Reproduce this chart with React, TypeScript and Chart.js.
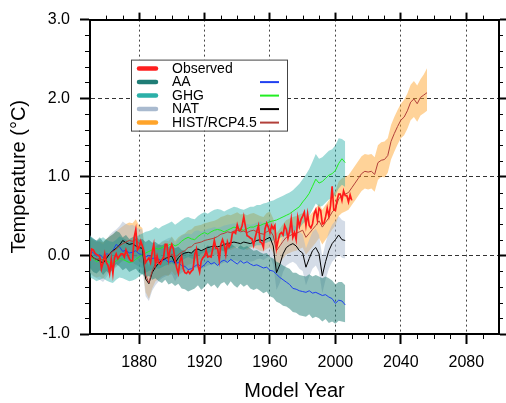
import { useEffect, useRef } from 'react';
import { Chart, registerables } from 'chart.js';
Chart.register(...registerables);

const FONT = "'Liberation Sans', Arial, Helvetica, sans-serif";

// ---- axes / ticks ----
const X_MIN = 1850;
const X_MAX = 2100;
const Y_MIN = -1;
const Y_MAX = 3;
const X_TICKS = [1880, 1920, 1960, 2000, 2040, 2080];
const Y_TICKS = [-1, 0, 1, 2, 3];
const X_MINOR = [1860, 1870, 1890, 1900, 1910, 1930, 1940, 1950, 1970, 1980, 1990, 2010, 2020, 2030, 2050, 2060, 2070, 2090];
const Y_MINOR = [-0.8, -0.6, -0.4, -0.2, 0.2, 0.4, 0.6, 0.8, 1.2, 1.4, 1.6, 1.8, 2.2, 2.4, 2.6, 2.8];

// ---- observed (annual, 1850-2010) ----
const OBS_START = 1850;
const OBSERVED = [
  -0.07, 0.08, 0.07, 0.03, 0.01, 0.00, -0.02, -0.17, -0.09, 0.02,
  -0.09, -0.13, -0.23, -0.05, -0.23, -0.03, 0.02, -0.04, -0.01, 0.02,
  0.02, -0.02, 0.07, 0.01, -0.04, -0.07, -0.07, 0.23, 0.33, 0.07,
  0.10, 0.18, 0.12, 0.05, -0.09, -0.06, -0.03, -0.09, 0.04, 0.14,
  -0.11, -0.01, -0.10, -0.11, -0.06, -0.02, 0.14, 0.14, -0.05, 0.08,
  0.14, 0.08, -0.06, -0.16, -0.23, -0.07, -0.01, -0.17, -0.22, -0.23,
  -0.20, -0.23, -0.20, -0.18, 0.01, 0.08, -0.13, -0.21, -0.07, -0.03,
  -0.01, 0.06, -0.02, -0.01, -0.02, 0.08, 0.19, 0.09, 0.09, -0.06,
  0.14, 0.20, 0.14, 0.01, 0.17, 0.11, 0.15, 0.28, 0.30, 0.28,
  0.39, 0.32, 0.32, 0.38, 0.49, 0.37, 0.25, 0.24, 0.22, 0.21,
  0.13, 0.23, 0.31, 0.38, 0.17, 0.16, 0.10, 0.34, 0.41, 0.36,
  0.29, 0.38, 0.34, 0.38, 0.09, 0.19, 0.27, 0.29, 0.26, 0.38,
  0.33, 0.22, 0.31, 0.46, 0.23, 0.29, 0.20, 0.48, 0.37, 0.46,
  0.50, 0.55, 0.38, 0.53, 0.38, 0.35, 0.40, 0.53, 0.58, 0.45,
  0.60, 0.57, 0.40, 0.41, 0.49, 0.60, 0.50, 0.63, 0.88, 0.58,
  0.57, 0.70, 0.78, 0.78, 0.70, 0.82, 0.76, 0.76, 0.68, 0.77,
  0.70,
];

// ---- model ensembles (every 2 years, 1850-2006) ----
const MODEL_START = 1850;
const MODEL_STEP = 2;

const AA = [
  0.07, 0.03, -0.01, 0.01, -0.03, 0.02, 0.01, 0.06, 0.14, 0.11,
  0.05, 0.07, 0.03, 0.04, 0.06, 0.02, 0.01, -0.02, 0.00, -0.04,
  -0.03, -0.05, -0.07, -0.05, -0.09, -0.07, -0.10, -0.09, -0.13, -0.14,
  -0.18, -0.17, -0.14, -0.11, -0.15, -0.12, -0.07, -0.11, -0.09, -0.13,
  -0.08, -0.06, -0.09, -0.05, -0.08, -0.11, -0.07, -0.10, -0.08, -0.11,
  -0.13, -0.12, -0.14, -0.16, -0.15, -0.19, -0.20, -0.24, -0.28, -0.31,
  -0.34, -0.37, -0.42, -0.43, -0.45, -0.46, -0.47, -0.45, -0.48, -0.47,
  -0.49, -0.51, -0.50, -0.53, -0.55, -0.61, -0.57, -0.58, -0.63,
];
const AA_LO = [
  -0.16, -0.21, -0.23, -0.19, -0.25, -0.20, -0.23, -0.17, -0.11, -0.14,
  -0.19, -0.16, -0.21, -0.19, -0.17, -0.22, -0.24, -0.28, -0.26, -0.31,
  -0.29, -0.33, -0.35, -0.31, -0.37, -0.35, -0.39, -0.36, -0.42, -0.43,
  -0.46, -0.44, -0.42, -0.38, -0.44, -0.40, -0.35, -0.40, -0.37, -0.42,
  -0.36, -0.34, -0.39, -0.33, -0.38, -0.41, -0.36, -0.40, -0.37, -0.42,
  -0.44, -0.42, -0.45, -0.48, -0.46, -0.52, -0.54, -0.59, -0.61, -0.64,
  -0.65, -0.68, -0.72, -0.73, -0.76, -0.77, -0.78, -0.75, -0.80, -0.78,
  -0.80, -0.84, -0.81, -0.86, -0.84, -0.87, -0.83, -0.84, -0.85,
];
const AA_HI = [
  0.24, 0.21, 0.19, 0.23, 0.17, 0.21, 0.24, 0.27, 0.31, 0.29,
  0.23, 0.26, 0.21, 0.23, 0.25, 0.20, 0.21, 0.17, 0.20, 0.16,
  0.17, 0.14, 0.13, 0.15, 0.11, 0.13, 0.09, 0.11, 0.07, 0.06,
  0.02, 0.04, 0.07, 0.10, 0.05, 0.08, 0.13, 0.09, 0.11, 0.07,
  0.12, 0.14, 0.11, 0.15, 0.12, 0.09, 0.13, 0.10, 0.12, 0.09,
  0.06, 0.07, 0.04, 0.02, 0.03, -0.02, -0.04, -0.08, -0.10, -0.13,
  -0.15, -0.17, -0.22, -0.22, -0.25, -0.26, -0.27, -0.24, -0.27, -0.25,
  -0.27, -0.29, -0.27, -0.29, -0.32, -0.37, -0.34, -0.34, -0.38,
];

const GHG = [
  -0.02, -0.04, -0.08, -0.06, -0.05, -0.07, -0.09, -0.10, -0.07, -0.04,
  -0.05, -0.07, -0.09, -0.08, -0.05, -0.02, 0.01, 0.03, 0.05, 0.07,
  0.09, 0.08, 0.10, 0.12, 0.13, 0.15, 0.12, 0.14, 0.18, 0.21,
  0.23, 0.21, 0.20, 0.24, 0.27, 0.29, 0.27, 0.30, 0.32, 0.33,
  0.32, 0.30, 0.32, 0.34, 0.36, 0.35, 0.33, 0.32, 0.34, 0.36,
  0.36, 0.38, 0.38, 0.40, 0.41, 0.43, 0.44, 0.45, 0.47, 0.49,
  0.51, 0.53, 0.56, 0.59, 0.62, 0.68, 0.73, 0.79, 0.88, 0.97,
  0.92, 0.94, 0.98, 1.02, 1.04, 1.08, 1.17, 1.23, 1.18,
];
const GHG_LO = [
  -0.28, -0.30, -0.33, -0.31, -0.29, -0.32, -0.34, -0.35, -0.31, -0.28,
  -0.29, -0.31, -0.33, -0.32, -0.30, -0.27, -0.24, -0.22, -0.20, -0.18,
  -0.16, -0.17, -0.15, -0.13, -0.12, -0.10, -0.13, -0.11, -0.07, -0.04,
  -0.02, -0.04, -0.05, -0.01, 0.02, 0.04, 0.02, 0.05, 0.07, 0.08,
  0.07, 0.05, 0.07, 0.09, 0.11, 0.10, 0.08, 0.07, 0.09, 0.11,
  0.11, 0.13, 0.13, 0.15, 0.16, 0.18, 0.19, 0.20, 0.22, 0.24,
  0.25, 0.27, 0.30, 0.32, 0.35, 0.40, 0.44, 0.50, 0.58, 0.66,
  0.62, 0.63, 0.67, 0.71, 0.73, 0.77, 0.85, 0.90, 0.87,
];
const GHG_HI = [
  0.24, 0.22, 0.18, 0.21, 0.23, 0.20, 0.18, 0.17, 0.20, 0.24,
  0.22, 0.20, 0.17, 0.19, 0.23, 0.26, 0.28, 0.30, 0.31, 0.33,
  0.36, 0.34, 0.37, 0.39, 0.41, 0.43, 0.39, 0.42, 0.45, 0.48,
  0.49, 0.47, 0.46, 0.50, 0.53, 0.55, 0.53, 0.56, 0.58, 0.59,
  0.58, 0.56, 0.58, 0.60, 0.62, 0.61, 0.59, 0.58, 0.60, 0.62,
  0.62, 0.64, 0.64, 0.66, 0.67, 0.69, 0.70, 0.72, 0.74, 0.76,
  0.78, 0.80, 0.83, 0.87, 0.91, 0.97, 1.03, 1.10, 1.19, 1.29,
  1.23, 1.25, 1.29, 1.33, 1.35, 1.40, 1.49, 1.48, 1.45,
];

const NAT = [
  0.02, -0.03, -0.05, -0.07, -0.10, -0.04, 0.02, 0.06, 0.09, 0.13,
  0.19, 0.16, 0.14, 0.15, 0.12, 0.10, 0.09, -0.30, -0.36, -0.22,
  -0.15, -0.10, -0.06, -0.04, -0.02, -0.01, -0.10, -0.03, 0.01, 0.03,
  0.04, 0.03, 0.07, 0.08, 0.06, 0.08, 0.10, 0.11, 0.12, 0.11,
  0.12, 0.14, 0.15, 0.16, 0.17, 0.16, 0.15, 0.17, 0.16, 0.15,
  0.17, 0.19, 0.20, 0.18, 0.21, 0.23, 0.12, -0.22, -0.12, 0.02,
  0.10, 0.13, 0.15, 0.12, 0.06, 0.03, -0.15, -0.04, 0.06, 0.10,
  0.02, -0.26, -0.08, 0.06, 0.15, 0.20, 0.26, 0.20, 0.19,
];
const NAT_LO = [
  -0.22, -0.27, -0.29, -0.31, -0.34, -0.28, -0.22, -0.18, -0.15, -0.11,
  -0.05, -0.08, -0.10, -0.09, -0.12, -0.14, -0.16, -0.52, -0.58, -0.45,
  -0.38, -0.33, -0.29, -0.27, -0.25, -0.24, -0.33, -0.26, -0.22, -0.20,
  -0.19, -0.20, -0.16, -0.15, -0.17, -0.15, -0.13, -0.12, -0.11, -0.12,
  -0.11, -0.09, -0.08, -0.07, -0.06, -0.07, -0.08, -0.06, -0.07, -0.08,
  -0.07, -0.05, -0.04, -0.06, -0.03, -0.01, -0.12, -0.44, -0.35, -0.21,
  -0.13, -0.10, -0.08, -0.11, -0.17, -0.20, -0.38, -0.27, -0.17, -0.13,
  -0.21, -0.48, -0.31, -0.17, -0.08, -0.04, 0.01, -0.03, -0.04,
];
const NAT_HI = [
  0.26, 0.21, 0.19, 0.17, 0.14, 0.20, 0.26, 0.30, 0.33, 0.37,
  0.43, 0.40, 0.38, 0.39, 0.36, 0.34, 0.33, -0.06, -0.12, 0.02,
  0.09, 0.14, 0.18, 0.20, 0.22, 0.23, 0.14, 0.21, 0.25, 0.27,
  0.28, 0.27, 0.31, 0.32, 0.30, 0.32, 0.34, 0.35, 0.36, 0.35,
  0.36, 0.38, 0.39, 0.40, 0.41, 0.40, 0.39, 0.41, 0.40, 0.39,
  0.40, 0.42, 0.43, 0.41, 0.44, 0.46, 0.36, 0.02, 0.12, 0.26,
  0.34, 0.37, 0.39, 0.36, 0.30, 0.27, 0.09, 0.20, 0.30, 0.34,
  0.26, -0.02, 0.16, 0.30, 0.39, 0.44, 0.50, 0.45, 0.43,
];

const HIST = [
  0.00, -0.03, -0.05, -0.04, -0.06, -0.01, 0.02, 0.05, 0.08, 0.12,
  0.15, 0.17, 0.19, 0.18, 0.20, 0.15, 0.13, -0.25, -0.35, -0.20,
  -0.10, -0.08, -0.05, -0.03, -0.04, 0.02, -0.04, 0.01, 0.04, 0.06,
  0.10, 0.11, 0.15, 0.16, 0.17, 0.19, 0.20, 0.21, 0.22, 0.24,
  0.27, 0.28, 0.30, 0.29, 0.31, 0.32, 0.30, 0.31, 0.29, 0.31,
  0.32, 0.30, 0.28, 0.27, 0.30, 0.32, 0.25, 0.06, 0.12, 0.18,
  0.23, 0.25, 0.27, 0.28, 0.30, 0.32, 0.23, 0.28, 0.33, 0.38,
  0.44, 0.36, 0.42, 0.48, 0.55, 0.60, 0.72, 0.76, 0.78,
];
const HIST_LO = [
  -0.22, -0.26, -0.28, -0.27, -0.30, -0.24, -0.20, -0.17, -0.14, -0.10,
  -0.07, -0.05, -0.03, -0.04, -0.02, -0.08, -0.10, -0.47, -0.55, -0.42,
  -0.33, -0.30, -0.27, -0.25, -0.26, -0.20, -0.26, -0.21, -0.18, -0.16,
  -0.12, -0.11, -0.07, -0.06, -0.05, -0.03, -0.02, -0.01, 0.00, 0.02,
  0.05, 0.06, 0.08, 0.07, 0.09, 0.10, 0.08, 0.09, 0.07, 0.09,
  0.10, 0.08, 0.06, 0.05, 0.08, 0.10, 0.03, -0.17, -0.10, -0.04,
  0.01, 0.03, 0.05, 0.06, 0.08, 0.10, 0.01, 0.06, 0.11, 0.16,
  0.22, 0.14, 0.20, 0.26, 0.33, 0.38, 0.50, 0.54, 0.56,
];
const HIST_HI = [
  0.22, 0.19, 0.17, 0.18, 0.16, 0.21, 0.24, 0.27, 0.30, 0.34,
  0.37, 0.40, 0.42, 0.41, 0.46, 0.38, 0.35, -0.03, -0.14, 0.02,
  0.12, 0.14, 0.17, 0.19, 0.18, 0.24, 0.18, 0.23, 0.26, 0.28,
  0.32, 0.33, 0.37, 0.38, 0.39, 0.41, 0.42, 0.43, 0.44, 0.46,
  0.49, 0.50, 0.52, 0.51, 0.53, 0.55, 0.52, 0.53, 0.51, 0.53,
  0.54, 0.52, 0.50, 0.49, 0.54, 0.56, 0.47, 0.28, 0.34, 0.40,
  0.45, 0.47, 0.49, 0.50, 0.52, 0.54, 0.45, 0.50, 0.55, 0.60,
  0.66, 0.58, 0.64, 0.70, 0.77, 0.82, 0.94, 0.98, 1.00,
];

// ---- RCP4.5 continuation (every 2 years, 2008-2056) ----
const RCP_START = 2008;
const RCP = [
  0.80, 0.86, 0.92, 0.98, 1.04, 1.07, 1.06, 1.07, 1.03, 1.18,
  1.21, 1.22, 1.27, 1.45, 1.55, 1.64, 1.72, 1.76, 1.84, 1.95,
  1.99, 1.93, 2.01, 2.04, 2.07,
];
const RCP_LO = [
  0.58, 0.64, 0.70, 0.76, 0.82, 0.85, 0.84, 0.85, 0.81, 0.96,
  1.00, 0.99, 1.05, 1.22, 1.32, 1.41, 1.49, 1.53, 1.61, 1.72,
  1.76, 1.70, 1.78, 1.81, 1.84,
];
const RCP_HI = [
  1.02, 1.08, 1.14, 1.20, 1.26, 1.29, 1.28, 1.29, 1.25, 1.40,
  1.44, 1.45, 1.49, 1.66, 1.76, 1.85, 1.93, 1.98, 2.06, 2.17,
  2.22, 2.16, 2.24, 2.30, 2.38,
];

// ---- legend ----
const LEGEND_LABELS = ['Observed', 'AA', 'GHG', 'NAT', 'HIST/RCP4.5'];
const LEGEND_BAND_COLORS = ['#ff1f1f', '#1f7d76', '#2bb0a8', '#a9bacf', '#ffa42a'];
const LEGEND_LINE_COLORS = [null, '#2040f0', '#22ee22', '#000000', '#b2403a'];

const yearsFrom = (start: number, step: number, n: number) => Array.from({ length: n }, (_, i) => start + step * i);
const pts = (xs: number[], ys: number[]) => ys.map((y, i) => ({ x: xs[i], y }));

const OBS_YEARS = yearsFrom(OBS_START, 1, OBSERVED.length);
const MODEL_YEARS = yearsFrom(MODEL_START, MODEL_STEP, AA.length);
const RCP_YEARS = yearsFrom(RCP_START, 2, RCP.length);
const HR_YEARS = MODEL_YEARS.concat(RCP_YEARS);

const minorTicks = {
  id: 'minorTicks',
  afterDraw(chart: any) {
    const { ctx, chartArea: a, scales } = chart;
    const x = scales.x, y = scales.y;
    ctx.save();
    ctx.strokeStyle = '#000';
    ctx.lineWidth = 1;
    ctx.beginPath();
    for (const v of X_MINOR) {
      const px = Math.round(x.getPixelForValue(v)) + 0.5;
      ctx.moveTo(px, a.bottom); ctx.lineTo(px, a.bottom + 5);
      ctx.moveTo(px, a.top); ctx.lineTo(px, a.top - 4);
    }
    for (const v of Y_MINOR) {
      const py = Math.round(y.getPixelForValue(v)) + 0.5;
      ctx.moveTo(a.left, py); ctx.lineTo(a.left - 5, py);
      ctx.moveTo(a.right, py); ctx.lineTo(a.right + 4, py);
    }
    ctx.stroke();
    ctx.restore();
  },
};

const boxLegend = {
  id: 'boxLegend',
  afterDraw(chart: any) {
    const { ctx, chartArea: a } = chart;
    const left = a.left + 41, top = a.top + 40, w = 156, h = 71;
    ctx.save();
    ctx.fillStyle = '#ffffff';
    ctx.fillRect(left, top, w, h);
    ctx.strokeStyle = '#444';
    ctx.lineWidth = 1;
    ctx.strokeRect(left + 0.5, top + 0.5, w, h);
    ctx.font = `14px ${FONT}`;
    ctx.textBaseline = 'middle';
    ctx.textAlign = 'left';
    LEGEND_LABELS.forEach((lab, i) => {
      const cy = top + 9 + i * 13.5;
      ctx.lineCap = 'round';
      ctx.lineWidth = 4.5;
      ctx.strokeStyle = LEGEND_BAND_COLORS[i];
      ctx.beginPath(); ctx.moveTo(left + 8, cy); ctx.lineTo(left + 25, cy); ctx.stroke();
      ctx.fillStyle = '#000';
      ctx.fillText(lab, left + 41, cy + 0.5);
      const lc = LEGEND_LINE_COLORS[i];
      if (lc) {
        ctx.lineCap = 'butt';
        ctx.lineWidth = 2;
        ctx.strokeStyle = lc;
        ctx.beginPath(); ctx.moveTo(left + 129, cy); ctx.lineTo(left + 148, cy); ctx.stroke();
      }
    });
    ctx.restore();
  },
};

function line(label: string, xs: number[], ys: number[], color: string, width: number, order: number) {
  return { label, data: pts(xs, ys), borderColor: color, borderWidth: width, pointRadius: 0, fill: false, order, tension: 0 };
}
function bandEdge(label: string, xs: number[], ys: number[], order: number, fillTarget: any, color: string) {
  return { label, data: pts(xs, ys), borderWidth: 0, borderColor: 'rgba(0,0,0,0)', pointRadius: 0, order, tension: 0, fill: fillTarget, backgroundColor: color };
}

export default function App() {
  const ref = useRef<HTMLCanvasElement>(null);
  useEffect(() => {
    const datasets: any[] = [
      line('Observed', OBS_YEARS, OBSERVED, '#ff1a1a', 1.7, 0),
      line('HIST/RCP4.5', HR_YEARS, HIST.concat(RCP), '#b2403a', 1, 1),
      line('NAT', MODEL_YEARS, NAT, '#000000', 1, 2),
      line('GHG', MODEL_YEARS, GHG, '#22ee22', 1, 3),
      line('AA', MODEL_YEARS, AA, '#2040f0', 1, 4),
      bandEdge('AA lo', MODEL_YEARS, AA_LO, 10, false, 'rgba(0,0,0,0)'),
      bandEdge('AA hi', MODEL_YEARS, AA_HI, 10, 5, 'rgba(31,125,118,0.5)'),
      bandEdge('GHG lo', MODEL_YEARS, GHG_LO, 11, false, 'rgba(0,0,0,0)'),
      bandEdge('GHG hi', MODEL_YEARS, GHG_HI, 11, 7, 'rgba(43,176,168,0.45)'),
      bandEdge('NAT lo', MODEL_YEARS, NAT_LO, 12, false, 'rgba(0,0,0,0)'),
      bandEdge('NAT hi', MODEL_YEARS, NAT_HI, 12, 9, 'rgba(169,186,207,0.5)'),
      bandEdge('HIST lo', HR_YEARS, HIST_LO.concat(RCP_LO), 13, false, 'rgba(0,0,0,0)'),
      bandEdge('HIST hi', HR_YEARS, HIST_HI.concat(RCP_HI), 13, 11, 'rgba(255,164,42,0.48)'),
    ];
    const setXTicks = (s: any) => { s.ticks = X_TICKS.map((v) => ({ value: v })); };
    const setYTicks = (s: any) => { s.ticks = Y_TICKS.map((v) => ({ value: v })); };
    const chart = new Chart(ref.current as HTMLCanvasElement, {
      type: 'line',
      data: { datasets },
      plugins: [minorTicks, boxLegend],
      options: {
        responsive: false,
        animation: false,
        layout: { padding: 0 },
        elements: { point: { radius: 0 }, line: { tension: 0 } },
        plugins: { legend: { display: false }, tooltip: { enabled: false } },
        scales: {
          x: {
            type: 'linear', position: 'bottom', min: X_MIN, max: X_MAX,
            afterBuildTicks: setXTicks,
            afterFit: (s: any) => { s.height = 69; },
            ticks: { color: '#000', font: { family: FONT, size: 16 }, padding: 9, maxRotation: 0, autoSkip: false, callback: (v: any) => String(v) },
            grid: { color: '#444', lineWidth: 1, tickLength: 10, tickColor: '#000', tickWidth: 2 },
            border: { display: true, color: '#000', width: 2, dash: [2, 3] },
            title: { display: true, text: 'Model Year', color: '#000', font: { family: FONT, size: 20 }, padding: { top: 0, bottom: 0 } },
          },
          x2: {
            type: 'linear', position: 'top', min: X_MIN, max: X_MAX,
            afterBuildTicks: setXTicks,
            afterFit: (s: any) => { s.height = 17; },
            ticks: { display: false },
            grid: { drawOnChartArea: false, tickLength: 7, tickColor: '#000', tickWidth: 2 },
            border: { display: true, color: '#000', width: 2 },
          },
          y: {
            type: 'linear', position: 'left', min: Y_MIN, max: Y_MAX,
            afterBuildTicks: setYTicks,
            afterFit: (s: any) => { s.width = 90; },
            ticks: { color: '#000', font: { family: FONT, size: 16 }, padding: 10, callback: (v: any) => Number(v).toFixed(1) },
            grid: {
              color: (c: any) => (c.tick && (c.tick.value === Y_MIN || c.tick.value === Y_MAX) ? 'rgba(0,0,0,0)' : '#333'),
              lineWidth: 1, tickLength: 10, tickColor: '#000', tickWidth: 2,
            },
            border: { display: true, color: '#000', width: 2, dash: [4, 3] },
            title: { display: true, text: 'Temperature (°C)', color: '#000', font: { family: FONT, size: 20 }, padding: { top: 7, bottom: 0 } },
          },
          y2: {
            type: 'linear', position: 'right', min: Y_MIN, max: Y_MAX,
            afterBuildTicks: setYTicks,
            afterFit: (s: any) => { s.width = 7; },
            ticks: { display: false },
            grid: { drawOnChartArea: false, tickLength: 7, tickColor: '#000', tickWidth: 2 },
            border: { display: true, color: '#000', width: 2 },
          },
        },
      } as any,
    });
    return () => chart.destroy();
  }, []);
  return (
    <div style={{ position: 'absolute', left: 0, top: 0, width: 506, height: 403, background: '#fff' }}>
      <canvas ref={ref} width={506} height={403} style={{ display: 'block' }} />
    </div>
  );
}
